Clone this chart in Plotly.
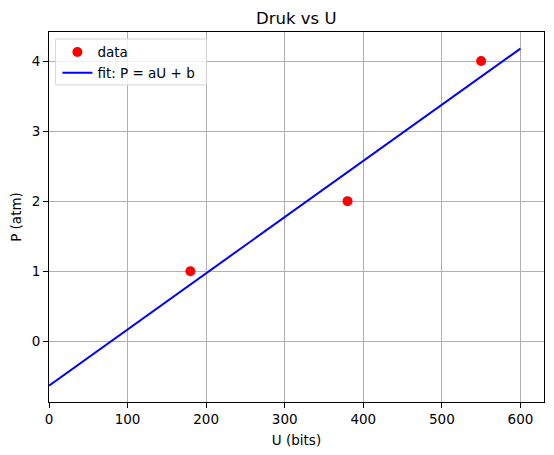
import plotly.graph_objects as go

# 数据点
u_data = [180, 380, 550]
p_data = [1, 2, 4]

# 拟合直线 P = aU + b 的两个端点
u_fit = [0, 600]
p_fit = [-0.633, 4.177]

x_ticks = [0, 100, 200, 300, 400, 500, 600]
y_ticks = [0, 1, 2, 3, 4]

fig = go.Figure()
fig.add_trace(go.Scatter(x=u_data, y=p_data, mode='markers', name='data',
                         marker=dict(color='red', size=10)))
fig.add_trace(go.Scatter(x=u_fit, y=p_fit, mode='lines', name='fit: P = aU + b',
                         line=dict(color='blue', width=2)))

axis_style = dict(
    showline=True, linecolor='black', linewidth=1.1, mirror=True,
    ticks='outside', ticklen=5, tickcolor='black', tickwidth=1.1,
    showgrid=True, gridcolor='#b0b0b0', gridwidth=1.1,
    zeroline=False, tickfont=dict(size=13.5, color='black'),
    automargin=False,
)

# 图例背景框 (页面 body 有 8px 边距, 所以整体尺寸减小 8px)
fig.add_shape(type='rect', xref='paper', yref='paper', layer='above',
              x0=0.0133, x1=0.318, y0=0.857, y1=0.981,
              fillcolor='rgba(255,255,255,0.8)',
              line=dict(color='#d5d5d5', width=1))

fig.update_layout(
    width=546, height=447,
    margin=dict(l=41, r=10, t=24, b=53),
    paper_bgcolor='white', plot_bgcolor='white',
    font=dict(family='DejaVu Sans', color='black'),
    title=dict(text='Druk vs U', x=0.528, xanchor='center', y=0.978, yanchor='middle',
               font=dict(size=16.5, color='black')),
    xaxis=dict(axis_style, range=[0, 630], tickvals=x_ticks,
               title=dict(text='U (bits)', font=dict(size=13.5), standoff=9)),
    yaxis=dict(axis_style, range=[-0.867, 4.414], tickvals=y_ticks,
               title=dict(text='P (atm)', font=dict(size=13.5), standoff=7)),
    legend=dict(x=0.017, y=0.987, xanchor='left', yanchor='top',
                bgcolor='rgba(0,0,0,0)', borderwidth=0,
                font=dict(size=13.5, color='black'), itemwidth=30,
                tracegroupgap=0),
    showlegend=True,
)

fig.write_html("out.html")
